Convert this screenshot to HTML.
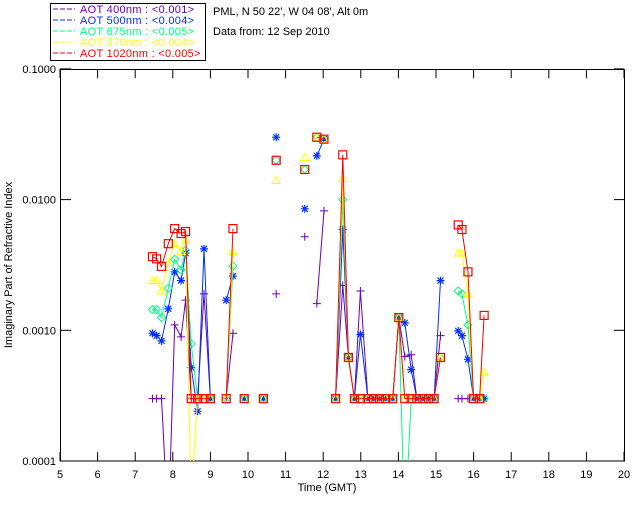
<!DOCTYPE html>
<html><head><meta charset="utf-8"><style>
body{margin:0;background:#fff}
svg text{font-family:"Liberation Sans",sans-serif;font-size:11px}
</style></head><body>
<svg id="chart" width="640" height="512" xmlns="http://www.w3.org/2000/svg">
<rect width="640" height="512" fill="#fff"/>
<defs><clipPath id="pc"><rect x="60" y="69" width="565" height="392"/></clipPath></defs>
<g>
<rect x="50.5" y="3.5" width="155" height="57" fill="#fff" stroke="#000"/>
<g id="leg"></g>
</g>
<text x="213" y="15" fill="#000">PML, N 50 22', W 04 08', Alt 0m</text>
<text x="213" y="35" fill="#000">Data from: 12 Sep 2010</text>
<rect x="60.5" y="69.5" width="564" height="391.5" fill="none" stroke="#000"/>
<g id="axes"></g>
<text x="327" y="491" text-anchor="middle">Time (GMT)</text>
<text transform="translate(12,265) rotate(-90)" text-anchor="middle">Imaginary Part of Refractive Index</text>
<g id="series" clip-path="url(#pc)"></g>
</svg>
<script>
const times=[7.46,7.57,7.70,7.88,8.05,8.22,8.34,8.49,8.66,8.83,9.0,9.42,9.60,9.90,10.41,10.75,11.51,11.83,12.02,12.33,12.52,12.67,12.83,12.99,13.19,13.34,13.5,13.66,13.85,14.01,14.17,14.34,14.49,14.65,14.80,14.95,15.12,15.59,15.69,15.85,16.0,16.16,16.28];
const v400=[0.0003,0.0003,0.0003,0.00003,0.0011,0.00089,0.0017,0.0003,0.0003,0.0019,0.0003,0.0003,0.00095,0.0003,0.0003,0.0019,0.0052,0.0016,0.0082,0.0003,0.0022,0.00062,0.0003,0.0020,0.0003,0.0003,0.0003,0.0003,0.0003,0.00125,0.00063,0.00065,0.0003,0.0003,0.0003,0.0003,0.00091,0.0003,0.0003,0.0003,0.0003,0.0003,0.0003];
const v500=[0.00095,0.00091,0.00083,0.00146,0.0028,0.0024,0.0039,0.00052,0.00024,0.0042,0.0003,0.0017,0.0026,0.0003,0.0003,0.030,0.0085,0.0216,0.029,0.0003,0.0059,0.00062,0.0003,0.00093,0.0003,0.0003,0.0003,0.0003,0.0003,0.00125,0.00114,0.00050,0.0003,0.0003,0.0003,0.0003,0.0024,0.00099,0.00091,0.00060,0.0003,0.0003,0.0003];
const v675=[0.00144,0.00144,0.00125,0.0021,0.0035,0.0029,0.0041,0.00079,0.0003,0.0003,0.0003,0.0003,0.0031,0.0003,0.0003,0.020,0.017,0.030,0.029,0.0003,0.0100,0.00062,0.0003,0.0003,0.0003,0.0003,0.0003,0.0003,0.0003,0.00125,0.00003,0.0003,0.0003,0.0003,0.0003,0.0003,0.00062,0.0020,0.0019,0.0011,0.0003,0.0003,0.0003];
const v870=[0.0024,0.0024,0.0020,0.0033,0.0046,0.0040,0.0049,0.00005,0.0003,0.0003,0.0003,0.0003,0.0040,0.0003,0.0003,0.014,0.021,0.030,0.029,0.0003,0.0145,0.00062,0.0003,0.0003,0.0003,0.0003,0.0003,0.0003,0.0003,0.00125,0.0003,0.0003,0.0003,0.0003,0.0003,0.0003,0.00062,0.0039,0.0039,0.0019,0.0003,0.0003,0.00048];
const v1020=[0.00366,0.00352,0.00308,0.0046,0.0060,0.0055,0.0057,0.0003,0.0003,0.0003,0.0003,0.0003,0.0060,0.0003,0.0003,0.020,0.017,0.030,0.029,0.0003,0.022,0.00062,0.0003,0.0003,0.0003,0.0003,0.0003,0.0003,0.0003,0.00125,0.0003,0.0003,0.0003,0.0003,0.0003,0.0003,0.00062,0.0064,0.0059,0.0028,0.0003,0.0003,0.0013];
const xTicks=[5,6,7,8,9,10,11,12,13,14,15,16,17,18,19,20];
const yTicks=[0.1,0.01,0.001,0.0001];
const yTickLabels=["0.1000","0.0100","0.0010","0.0001"];
const legendLabels=["AOT  400nm : <0.001>","AOT  500nm : <0.004>","AOT  675nm : <0.005>","AOT  870nm : <0.004>","AOT 1020nm : <0.005>"];
const NS="http://www.w3.org/2000/svg";
const X=t=>60+(t-5)*37.6;
const Y=v=>461-(Math.log10(v)+4)*130.7;
function mk(tag,at,parent){const e=document.createElementNS(NS,tag);for(const k in at)e.setAttribute(k,at[k]);parent.appendChild(e);return e;}
const axes=document.getElementById('axes');
xTicks.forEach(t=>{
  const x=X(t);
  const tb=mk('line',{x1:x,y1:461,x2:x,y2:452,stroke:'#000'},axes);
  
  
  const tt=mk('line',{x1:x,y1:69,x2:x,y2:78,stroke:'#000'},axes);
  
  
  const lb=mk('text',{x:x,y:478,'text-anchor':'middle'},axes);lb.textContent=t;
  
  
});
yTicks.forEach((v,i)=>{
  const y=Y(v);
  const tl=mk('line',{x1:60,y1:y,x2:71,y2:y,stroke:'#000'},axes);
  
  
  const tr=mk('line',{x1:614,y1:y,x2:624,y2:y,stroke:'#000'},axes);
  
  
  const lb=mk('text',{x:56,y:y+4,'text-anchor':'end'},axes);lb.textContent=yTickLabels[i];
  
  
});
const series=[[v400,'#6a00b8','plus'],[v500,'#0030ff','star'],[v675,'#00ff80','diamond'],[v870,'#ffff00','tri'],[v1020,'#ff0000','square']];
const names=['series-400nm','series-500nm','series-675nm','series-870nm','series-1020nm'];
const leg=document.getElementById('leg');
series.forEach((s,i)=>{
  const y=13+i*11;
  const l=mk('line',{x1:53,y1:y-4,x2:75,y2:y-4,stroke:s[1],'stroke-dasharray':'5,2'},leg);
  
  
  const t=mk('text',{x:80,y:y,fill:s[1],'xml:space':'preserve','letter-spacing':'0.3'},leg);t.textContent=legendLabels[i];
  
  
});
const sg=document.getElementById('series');
series.forEach((s,si)=>{
  const vals=s[0],col=s[1],m=s[2];
  const g=mk('g',{},sg);
  
  
  let d='';
  for(let i=0;i<times.length;i++){
    if(vals[i]==null)continue;
    const brk=i===0||vals[i-1]==null||times[i]-times[i-1]>0.25;
    d+=(brk?'M':'L')+X(times[i]).toFixed(1)+','+Y(vals[i]).toFixed(1);
  }
  const p=mk('path',{d:d,fill:'none',stroke:col,'stroke-width':1},g);
  
  
  for(let i=0;i<times.length;i++){
    if(vals[i]==null)continue;
    const x=X(times[i]),y=Y(vals[i]);let e;
    if(m==='plus')e=mk('path',{d:`M${x-4},${y}h8M${x},${y-4}v8`,stroke:col,fill:'none'},g);
    else if(m==='star')e=mk('path',{d:`M${x-4},${y}h8M${x},${y-4}v8M${x-3},${y-3}l6,6M${x-3},${y+3}l6,-6`,stroke:col,fill:'none','stroke-width':1.2},g);
    else if(m==='diamond')e=mk('path',{d:`M${x-4},${y}L${x},${y-4}L${x+4},${y}L${x},${y+4}Z`,stroke:col,fill:'none'},g);
    else if(m==='tri')e=mk('path',{d:`M${x-4},${y+3}L${x},${y-4}L${x+4},${y+3}Z`,stroke:col,fill:'none'},g);
    else e=mk('rect',{x:x-4,y:y-4,width:8,height:8,stroke:col,fill:'none','stroke-width':1.2},g);
    
    
  }
});
</script>
</body></html>
